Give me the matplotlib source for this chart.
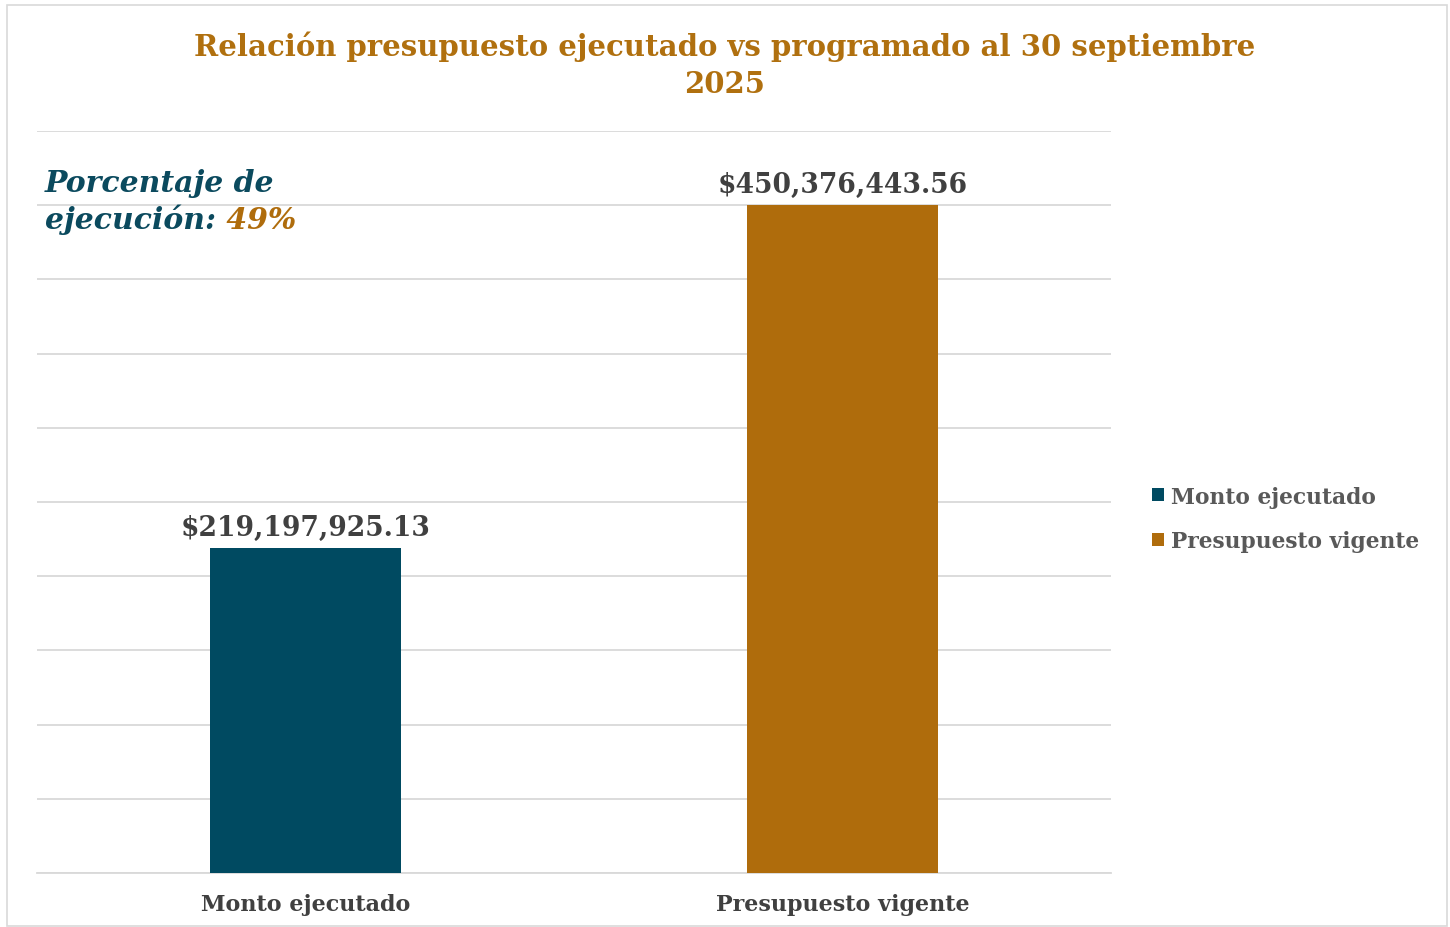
import matplotlib
matplotlib.use("Agg")
import matplotlib.pyplot as plt
from matplotlib.patches import Rectangle

categories = ["Monto ejecutado", "Presupuesto vigente"]
values = [219197925.13, 450376443.56]
labels = ["$219,197,925.13", "$450,376,443.56"]
colors = ["#004A61", "#AF6C0C"]
percent_text = "49%"
title = "Relación presupuesto ejecutado vs programado al 30 septiembre\n2025"

plt.rcParams['font.family'] = ['DejaVu Serif']

fig = plt.figure(figsize=(14.5, 9.28), dpi=100)
fig.patches.append(Rectangle((7/1450, 1 - 927/928), 1440/1450, 921/928, transform=fig.transFigure,
                             fill=False, edgecolor="#D9D9D9", linewidth=1.2))

ax = fig.add_axes([37/1450, 54/928, (1111-37)/1450, (874-132)/928])
x = list(range(len(categories)))
bars = ax.bar(x, values, width=0.356, color=colors, label=categories, zorder=3)
ax.set_xlim(-0.5, 1.5)
ax.set_ylim(0, 500e6)
ax.set_yticks([i * 50e6 for i in range(11)])
ax.yaxis.grid(True, color="#D9D9D9", linewidth=1.3, zorder=0)
ax.tick_params(axis='y', left=False, labelleft=False)
ax.tick_params(axis='x', length=0, pad=14.5)
ax.set_xticks(x)
ax.set_xticklabels(categories, fontsize=16, fontweight='bold', color="#404040")
for s in ["top", "right", "left"]:
    ax.spines[s].set_visible(False)
ax.spines["bottom"].set_color("#D9D9D9")
ax.spines["bottom"].set_linewidth(1.3)

for xi, v, lab in zip(x, values, labels):
    ax.annotate(lab, (xi, v), xytext=(0, 5), textcoords="offset points", ha="center", va="bottom",
                fontsize=19.2, fontweight="bold", color="#404040")

fig.text(0.5, 1 - 31/928, title, ha="center", va="top", fontsize=21, fontweight="bold",
         color="#B0700F", linespacing=1.35)

t1 = fig.text(45/1450, 1 - 183/928, "Porcentaje de", ha="left", va="center", fontsize=21.5,
              fontweight="bold", style="italic", color="#0B4A5E")
t2 = fig.text(45/1450, 1 - 220/928, "ejecución:", ha="left", va="center", fontsize=21.5,
              fontweight="bold", style="italic", color="#0B4A5E")
ax.annotate(" " + percent_text, xy=(1, 0), xycoords=t2, ha="left", va="bottom", fontsize=21.5,
            fontweight="bold", style="italic", color="#AF6C0C", annotation_clip=False)

leg = fig.legend(handles=list(bars), labels=categories, loc="center left",
                 bbox_to_anchor=(1132/1450, 1 - 520/928), frameon=False,
                 handlelength=0.55, handleheight=0.55, handletextpad=0.35, labelspacing=1.05,
                 prop={'weight': 'bold', 'size': 15.7})
for t in leg.get_texts():
    t.set_color("#595959")

fig.savefig("out.png", dpi=100, facecolor="white")
